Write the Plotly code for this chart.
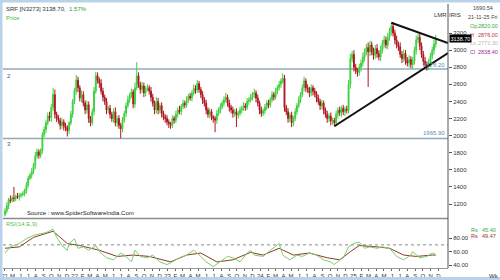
import plotly.graph_objects as go
import pandas as pd

# ---------------- data ----------------
first_open = 1075
closes = [
    1120, 1180, 1250, 1240, 1270, 1265, 1290, 1280, 1300, 1310,
    1320, 1360, 1420, 1500, 1540, 1580, 1650, 1760, 1810, 1770,
    1830, 2010, 2070, 2150, 2230, 2210, 2330, 2480, 2250, 2200,
    2180, 2120, 2160, 2110, 2090, 2060, 2150, 2250, 2400, 2520,
    2650, 2560, 2440, 2480, 2380, 2300, 2360, 2200, 2150, 2280,
    2520, 2700, 2650, 2610, 2520, 2450, 2400, 2300, 2320, 2250,
    2200, 2280, 2150, 2200, 2120, 2080, 2180, 2260, 2350, 2420,
    2470, 2510, 2370, 2560, 2700, 2600, 2540, 2580, 2500, 2550,
    2560, 2520, 2450, 2380, 2300, 2400, 2300, 2350, 2260, 2220,
    2200, 2160, 2140, 2120, 2200, 2180, 2250, 2300, 2280, 2340,
    2380, 2360, 2420, 2460, 2440, 2500, 2550, 2530, 2610, 2540,
    2480, 2420, 2380, 2300, 2250, 2280, 2220, 2200, 2180, 2260,
    2300, 2340, 2380, 2420, 2450, 2380, 2330, 2300, 2260, 2280,
    2240, 2260, 2300, 2320, 2350, 2330, 2400, 2420, 2450, 2480,
    2500, 2440, 2380, 2300, 2260, 2290, 2330, 2380, 2360, 2420,
    2480, 2450, 2520, 2560, 2600, 2640, 2670, 2330, 2280, 2200,
    2240, 2150, 2200, 2280, 2350, 2420, 2480, 2560, 2640, 2560,
    2540, 2500, 2560, 2520, 2490, 2440, 2400, 2350, 2380, 2300,
    2250, 2200, 2230, 2170, 2180, 2150, 2250, 2300, 2270, 2320,
    2280, 2310, 2300, 2600, 2900, 2950, 2800, 2760, 2740, 2800,
    2850, 2920, 2980, 3030, 2980, 3060, 2980, 2940, 3020, 2960,
    2920, 3000, 3080, 3120, 3060, 3150, 3220, 3280, 3200, 3120,
    3060, 3040, 2950, 2900, 2960, 2880, 2850, 2890, 2830, 2870,
    3000, 3120, 3150, 3050, 2950, 2870, 2830, 2810, 2850, 2930,
    3000, 3070, 3138.7,
]
wick_up = [
    30, 40, 20, 50, 30, 130, 20, 40, 30, 20,
    30, 20, 40, 30, 20, 40, 30, 50, 40, 30,
    20, 30, 40, 30, 40, 50, 40, 80, 60, 30,
    40, 30, 50, 30, 40, 30, 20, 40, 30, 40,
    60, 40, 30, 50, 40, 30, 50, 40, 30, 40,
    50, 45, 40, 30, 50, 40, 30, 40, 30, 40,
    30, 40, 50, 30, 40, 30, 40, 30, 40, 50,
    30, 40, 30, 60, 160, 40, 30, 50, 40, 30,
    40, 30, 50, 40, 30, 50, 40, 30, 40, 30,
    30, 40, 30, 20, 40, 30, 40, 30, 50, 30,
    40, 30, 40, 30, 40, 30, 50, 40, 40, 30,
    30, 40, 30, 40, 30, 40, 30, 20, 30, 40,
    30, 40, 30, 40, 50, 30, 40, 30, 40, 30,
    40, 30, 40, 30, 40, 30, 40, 30, 40, 30,
    50, 30, 40, 30, 40, 30, 40, 30, 40, 30,
    40, 30, 40, 30, 40, 30, 60, 40, 30, 40,
    30, 40, 30, 40, 30, 40, 30, 40, 50, 30,
    40, 30, 40, 30, 40, 30, 40, 30, 40, 30,
    30, 40, 30, 40, 30, 30, 40, 30, 40, 30,
    40, 30, 40, 50, 60, 40, 50, 40, 30, 40,
    40, 50, 40, 40, 60, 50, 40, 50, 40, 50,
    40, 50, 40, 50, 40, 50, 40, 40, 50, 40,
    50, 40, 50, 40, 50, 40, 40, 50, 40, 50,
    40, 50, 40, 50, 40, 40, 50, 40, 50, 40,
    40, 50, 40,
]
wick_dn = [
    20, 30, 40, 30, 20, 40, 30, 20, 40, 30,
    20, 30, 40, 30, 20, 40, 30, 40, 30, 40,
    30, 40, 30, 40, 30, 40, 50, 40, 50, 40,
    40, 50, 40, 50, 40, 70, 40, 30, 40, 30,
    40, 50, 40, 50, 40, 50, 40, 50, 40, 30,
    40, 30, 40, 50, 40, 50, 40, 50, 40, 50,
    40, 50, 40, 50, 40, 110, 40, 30, 40, 30,
    40, 30, 50, 40, 30, 40, 50, 40, 50, 40,
    30, 40, 50, 40, 50, 40, 50, 40, 50, 40,
    50, 40, 50, 40, 30, 40, 30, 40, 30, 40,
    30, 40, 30, 40, 30, 40, 30, 40, 30, 40,
    40, 50, 40, 50, 40, 50, 40, 50, 140, 40,
    30, 40, 30, 40, 30, 40, 50, 40, 50, 40,
    140, 40, 30, 40, 30, 40, 30, 40, 30, 40,
    40, 50, 40, 50, 40, 30, 40, 30, 40, 30,
    30, 40, 30, 40, 30, 40, 30, 50, 40, 50,
    40, 50, 40, 30, 40, 30, 40, 30, 40, 50,
    40, 50, 40, 50, 40, 50, 40, 50, 40, 50,
    40, 50, 40, 50, 40, 40, 40, 50, 40, 50,
    40, 50, 40, 40, 50, 40, 50, 40, 50, 40,
    50, 40, 50, 40, 410, 50, 40, 50, 40, 50,
    40, 50, 40, 50, 40, 50, 40, 50, 40, 50,
    40, 50, 40, 50, 40, 50, 40, 50, 40, 50,
    40, 50, 40, 50, 40, 50, 40, 50, 40, 50,
    40, 50, 40,
]
first_week = "2021-04-02"

# RSI (green) and its signal (brown), sampled at week indices
rsi_idx = [0, 3, 8, 12, 16, 20, 23, 27, 29, 32, 35, 36, 39, 41, 44, 47, 51, 53, 57, 61,
           65, 68, 71, 73, 76, 80, 83, 87, 91, 94, 98, 102, 106, 110, 113, 117, 121, 125, 128, 132,
           136, 138, 140, 145, 149, 153, 154, 156, 160, 164, 167, 171, 175, 179, 183, 185, 188, 190, 193, 196,
           199, 202, 205, 209, 212, 216, 220, 224, 228, 229, 233, 237, 240, 242]
rsi_val = [58, 67, 72, 79, 84, 86, 88, 93, 81, 69, 62, 72, 79, 65, 67, 62, 69, 60, 51, 48,
           58, 53, 45, 62, 53, 51, 55, 45, 41, 45, 51, 55, 62, 53, 45, 38, 45, 53, 51, 45,
           58, 62, 55, 53, 62, 69, 72, 55, 48, 55, 53, 58, 55, 48, 45, 41, 48, 51, 67, 72,
           74, 65, 67, 65, 67, 65, 53, 48, 55, 60, 51, 53, 58, 56]
sig_idx = [0, 8, 16, 27, 35, 42, 53, 63, 72, 81, 93, 102, 110, 119, 128, 138, 145, 154, 162, 171,
           181, 188, 194, 199, 209, 216, 224, 231, 240, 242]
sig_val = [65, 67, 81, 90, 72, 69, 62, 53, 55, 53, 45, 55, 58, 45, 48, 59, 55, 65, 55, 58,
           51, 48, 60, 69, 67, 65, 55, 53, 55, 55]

hlines = [2778.20, 1965.90]
hline_labels = ["2778.20", "1965.90"]
tl_lower_dates = ["2024-10-18", "2026-01-08"]
tl_lower_prices = [2110, 2966]
tl_upper_dates = ["2025-05-30", "2026-01-08"]
tl_upper_prices = [3320, 3083]

price_ticks = [1200, 1400, 1600, 1800, 2000, 2200, 2400, 2600, 2800, 3000, 3200]
rsi_ticks = [40, 60, 80]
rsi_level = 70
month_letters = ["J", "F", "M", "A", "M", "J", "J", "A", "S", "O", "N", "D"]

info_lines = [("1690.54", "#444444"), ("21-11-25 Fri", "#444444")]
ohlc_info = [("Op", "2820.00", "#3aa83a"), ("H", "2876.00", "#c0304a"),
             ("Lo", "2772.30", "#b8b8b8"), ("Cl", "2838.40", "#9a2a9a")]
rs_info = [("Rs", "45.40", "#3aa83a"), ("Rs", "49.47", "#a03030")]

# ---------------- build ----------------
dates = pd.date_range(first_week, periods=len(closes), freq="7D")
opens = [first_open] + closes[:-1]
highs = [max(o, c) + w for o, c, w in zip(opens, closes, wick_up)]
lows = [min(o, c) - w for o, c, w in zip(opens, closes, wick_dn)]

W, H = 500, 280
ML, MR, MT, MB = 3, 52, 4, 12
PW, PH = W - ML - MR, H - MT - MB


def px(x):
    return (x - ML) / PW


def py(y):
    return (H - MB - y) / PH


FONT = "Liberation Sans, Arial, sans-serif"
FS = 6
x_range = ["2021-03-25", "2026-01-08"]

fig = go.Figure()
fig.add_trace(go.Candlestick(
    x=dates, open=opens, high=highs, low=lows, close=closes,
    xaxis="x2", yaxis="y",
    increasing=dict(line=dict(color="#3fcf3f", width=1), fillcolor="#3fcf3f"),
    decreasing=dict(line=dict(color="#b0141e", width=1), fillcolor="#b0141e"),
    whiskerwidth=0, showlegend=False, hoverinfo="skip",
))
fig.add_trace(go.Scatter(x=list(tl_lower_dates), y=tl_lower_prices, mode="lines",
                         line=dict(color="#111111", width=2), xaxis="x2", yaxis="y",
                         showlegend=False, hoverinfo="skip"))
fig.add_trace(go.Scatter(x=list(tl_upper_dates), y=tl_upper_prices, mode="lines",
                         line=dict(color="#111111", width=2), xaxis="x2", yaxis="y",
                         showlegend=False, hoverinfo="skip"))
fig.add_trace(go.Scatter(x=[dates[i] for i in sig_idx], y=sig_val, mode="lines",
                         line=dict(color="#8a3a2a", width=1), xaxis="x", yaxis="y2",
                         showlegend=False, hoverinfo="skip"))
fig.add_trace(go.Scatter(x=[dates[i] for i in rsi_idx], y=rsi_val, mode="lines",
                         line=dict(color="#7ccf6a", width=1), xaxis="x", yaxis="y2",
                         showlegend=False, hoverinfo="skip"))

# month ticks
months = pd.date_range("2021-04-01", "2025-12-01", freq="MS")
tickvals, ticktext = [], []
for k, m in enumerate(months):
    tickvals.append(m)
    if k == 0 or m.month == 1:
        ticktext.append(m.strftime("%y"))
    else:
        ticktext.append(month_letters[m.month - 1])

price_dom = [py(217), 1.0]
rsi_dom = [0.0, py(219)]

shapes = []
for v in hlines:
    shapes.append(dict(type="line", xref="x2 domain", yref="y", x0=0, x1=1, y0=v, y1=v,
                       line=dict(color="#93a9b8", width=1.5), layer="below"))
shapes.append(dict(type="line", xref="x domain", yref="y2", x0=0, x1=1, y0=rsi_level,
                   y1=rsi_level, line=dict(color="#888888", width=1, dash="dot"), layer="below"))
# pane separator
shapes.append(dict(type="line", xref="paper", yref="paper", x0=0, x1=1, y0=py(218.5), y1=py(218.5),
                   line=dict(color="#8c8c8c", width=1.5)))
# right axis line (full height)
shapes.append(dict(type="line", xref="paper", yref="paper", x0=px(448), x1=px(448), y0=0, y1=py(4),
                   line=dict(color="#555555", width=1)))
# window frame strips
frame = "#b9d3ea"
shapes.append(dict(type="rect", xref="paper", yref="paper", x0=px(0), x1=px(2.5), y0=py(H), y1=py(0),
                   fillcolor=frame, line=dict(width=0)))
shapes.append(dict(type="rect", xref="paper", yref="paper", x0=px(0), x1=px(W), y0=py(H), y1=py(277),
                   fillcolor=frame, line=dict(width=0)))
shapes.append(dict(type="rect", xref="paper", yref="paper", x0=px(0), x1=px(W), y0=py(2.5), y1=py(0),
                   fillcolor=frame, line=dict(width=0)))


def ann(x, y, text, color="#333333", size=FS, xanchor="left", **kw):
    return dict(x=px(x), y=py(y), xref="paper", yref="paper", text=text, showarrow=False,
                xanchor=xanchor, yanchor="middle", font=dict(family=FONT, size=size, color=color), **kw)


annotations = [
    ann(4, 9, "SRF [N3273] 3138.70,  <span style='color:#3a9a3a'>1.57%</span>", "#333333"),
    ann(4, 18, "Price", "#44bb44"),
    ann(5, 76, "2", "#555555"),
    ann(5, 144, "3", "#555555"),
    ann(25, 213, "Source : www.SpiderSoftwareIndia.Com", "#222222"),
    ann(4, 224, "RSI(14,E,9)", "#5cbf4c"),
    ann(447, 64.5, hline_labels[0], "#5a8fb4", xanchor="right"),
    ann(447, 132.5, hline_labels[1], "#5a8fb4", xanchor="right"),
    ann(440, 15, "LMR", "#333333", xanchor="center"),
    ann(455, 15, "IRIS", "#333333", xanchor="center"),
    ann(494, 276, "Wk", "#333333", xanchor="center"),
]
for k, (t, c) in enumerate(info_lines):
    annotations.append(ann(483, 8 + 9 * k, t, c, size=5.5, xanchor="center"))
for k, (lab, val, c) in enumerate(ohlc_info):
    annotations.append(ann(467.5, 26 + 8.6 * k, lab, c, size=5.5))
    annotations.append(ann(500, 26 + 8.6 * k, val, c, size=5.5, xanchor="right"))
for k, (lab, val, c) in enumerate(rs_info):
    annotations.append(ann(469, 230 + 6 * k, lab, c, size=5.5))
    annotations.append(ann(498, 230 + 6 * k, val, c, size=5.5, xanchor="right"))
# last price box
annotations.append(dict(x=px(448.5), y=closes[-1], xref="paper", yref="y",
                        text=f"{closes[-1]:.2f}", showarrow=False, xanchor="left", yanchor="middle",
                        bgcolor="#000000", borderpad=0.5,
                        font=dict(family=FONT, size=5.5, color="#ffffff")))

axis_font = dict(family=FONT, size=FS, color="#333333")
fig.update_layout(
    width=W, height=H,
    margin=dict(l=ML, r=MR, t=MT, b=MB, autoexpand=False),
    paper_bgcolor="white", plot_bgcolor="white",
    showlegend=False,
    xaxis=dict(type="date", range=x_range, domain=[0, 1], anchor="y2", automargin=False,
               tickmode="array", tickvals=tickvals, ticktext=ticktext, tickangle=0,
               ticks="outside", ticklen=2, tickcolor="#666666", tickfont=axis_font,
               ticklabelstandoff=0,
               showgrid=False, zeroline=False, showline=True, linecolor="#999999", linewidth=1),
    xaxis2=dict(type="date", range=x_range, domain=[0, 1], anchor="y", matches="x",
                automargin=False,
                showticklabels=False, ticks="", showgrid=False, zeroline=False,
                rangeslider=dict(visible=False)),
    yaxis=dict(domain=price_dom, range=[1048, 3540], side="right", anchor="x2", automargin=False,
               tickmode="array", tickvals=price_ticks, tickformat="d",
               ticks="outside", ticklen=3, tickcolor="#555555", tickfont=axis_font,
               showgrid=False, zeroline=False, showline=False),
    yaxis2=dict(domain=rsi_dom, range=[36, 108], side="right", anchor="x", automargin=False,
                tickmode="array", tickvals=rsi_ticks, tickformat=".2f",
                ticks="outside", ticklen=3, tickcolor="#555555", tickfont=axis_font,
                showgrid=False, zeroline=False, showline=False),
    shapes=shapes, annotations=annotations,
)

fig.write_html("out.html")
